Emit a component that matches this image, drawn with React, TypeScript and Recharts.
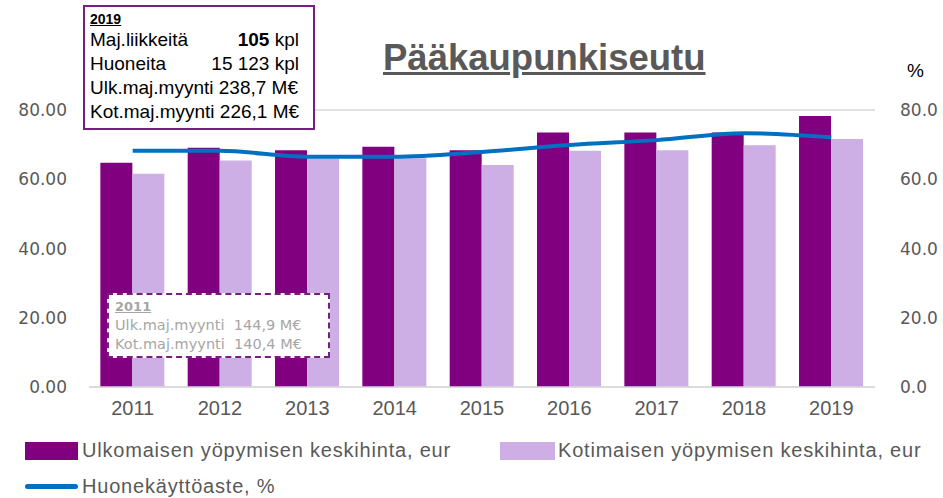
import { ComposedChart, Bar, Line, XAxis, YAxis, CartesianGrid, Legend } from 'recharts'

const YEARS = ['2011', '2012', '2013', '2014', '2015', '2016', '2017', '2018', '2019']
const FOREIGN_PRICE = [64.8, 69.1, 68.4, 69.4, 68.4, 73.5, 73.5, 73.5, 78.3]
const DOMESTIC_PRICE = [61.6, 65.4, 66.0, 66.1, 64.1, 68.2, 68.4, 69.8, 71.6]
const OCCUPANCY = [68.2, 68.2, 66.5, 66.5, 67.9, 69.9, 71.3, 73.3, 72.1]
const TICKS = [0, 20, 40, 60, 80]

const DARK = '#800080'
const LIGHT = '#CDAFE6'
const BLUE = '#0070C0'
const GREY = '#595959'

const data = YEARS.map((year, i) => ({
  year,
  foreign: FOREIGN_PRICE[i],
  domestic: DOMESTIC_PRICE[i],
  occupancy: OCCUPANCY[i],
}))

const tickFont = { fill: GREY, fontSize: 17, fontFamily: 'DejaVu Sans, sans-serif' }

function ChartLegend() {
  const text = { fontSize: 20, letterSpacing: 0.8, color: GREY, fontFamily: 'Liberation Sans, sans-serif', whiteSpace: 'nowrap' as const }
  return (
    <div style={{ position: 'relative', width: 943, height: 81 }}>
      <div style={{ position: 'absolute', left: 25, top: 22, display: 'flex', alignItems: 'center' }}>
        <span style={{ width: 53, height: 18, background: DARK, marginRight: 4 }} />
        <span style={text}>Ulkomaisen yöpymisen keskihinta, eur</span>
      </div>
      <div style={{ position: 'absolute', left: 500, top: 22, display: 'flex', alignItems: 'center' }}>
        <span style={{ width: 55, height: 18, background: LIGHT, marginRight: 3 }} />
        <span style={text}>Kotimaisen yöpymisen keskihinta, eur</span>
      </div>
      <div style={{ position: 'absolute', left: 25, top: 58, display: 'flex', alignItems: 'center' }}>
        <span style={{ width: 53, height: 5, borderRadius: 3, background: BLUE, marginRight: 4 }} />
        <span style={text}>Huonekäyttöaste, %</span>
      </div>
    </div>
  )
}

export default function App() {
  return (
    <div style={{ position: 'absolute', left: 0, top: 0, width: 943, height: 498, background: '#fff' }}>
      <ComposedChart
        width={943}
        height={498}
        data={data}
        margin={{ top: 110, right: 0, bottom: 0, left: 0 }}
        barGap={0}
        barCategoryGap="13%"
      >
        <CartesianGrid vertical={false} stroke="#D9D9D9" strokeWidth={1.5} />
        <XAxis
          dataKey="year"
          height={30}
          tickLine={false}
          axisLine={{ stroke: '#D9D9D9', strokeWidth: 1.5 }}
          tick={{ fill: GREY, fontSize: 20, fontFamily: 'Liberation Sans, sans-serif' }}
          tickMargin={8}
        />
        <YAxis
          yAxisId="left"
          width={89}
          domain={[0, 80]}
          ticks={TICKS}
          tickFormatter={(v: number) => v.toFixed(2)}
          axisLine={false}
          tickLine={false}
          tick={tickFont}
          tickMargin={16}
        />
        <YAxis
          yAxisId="right"
          orientation="right"
          width={68}
          domain={[0, 80]}
          ticks={TICKS}
          tickFormatter={(v: number) => v.toFixed(1)}
          axisLine={false}
          tickLine={false}
          tick={tickFont}
          tickMargin={19}
        />
        <Bar yAxisId="left" dataKey="foreign" fill={DARK} isAnimationActive={false} />
        <Bar yAxisId="left" dataKey="domestic" fill={LIGHT} isAnimationActive={false} />
        <Line
          yAxisId="right"
          dataKey="occupancy"
          type="monotone"
          stroke={BLUE}
          strokeWidth={4}
          dot={false}
          isAnimationActive={false}
        />
        <Legend verticalAlign="bottom" content={() => <ChartLegend />} wrapperStyle={{ left: 0 }} />
      </ComposedChart>

      <div
        style={{
          position: 'absolute',
          left: 383,
          top: 37,
          fontFamily: 'Liberation Sans, sans-serif',
          fontWeight: 'bold',
          fontSize: 36.5,
          color: GREY,
          textDecoration: 'underline',
          whiteSpace: 'nowrap',
        }}
      >
        Pääkaupunkiseutu
      </div>
      <div style={{ position: 'absolute', left: 907, top: 60, fontSize: 19, color: '#000', fontFamily: 'Liberation Sans, sans-serif' }}>
        %
      </div>

      <div
        style={{
          position: 'absolute',
          left: 83,
          top: 5,
          width: 232,
          height: 125,
          border: '2px solid #74207F',
          background: '#fff',
          fontFamily: 'Liberation Sans, sans-serif',
          fontSize: 19,
          color: '#000',
          padding: '3px 5px',
          boxSizing: 'border-box',
          lineHeight: '24px',
        }}
      >
        <div style={{ fontSize: 14, fontWeight: 'bold', textDecoration: 'underline', lineHeight: '18px' }}>2019</div>
        <div style={{ display: 'flex', justifyContent: 'space-between', paddingRight: 9 }}>
          <span>Maj.liikkeitä</span>
          <span>
            <b>105</b> kpl
          </span>
        </div>
        <div style={{ display: 'flex', justifyContent: 'space-between', paddingRight: 9 }}>
          <span>Huoneita</span>
          <span>15 123 kpl</span>
        </div>
        <div style={{ whiteSpace: 'nowrap' }}>Ulk.maj.myynti 238,7 M€</div>
        <div style={{ whiteSpace: 'nowrap' }}>Kot.maj.myynti 226,1 M€</div>
      </div>

      <div
        style={{
          position: 'absolute',
          left: 107,
          top: 293,
          width: 223,
          height: 65,
          border: '2px dashed #74207F',
          background: '#fff',
          fontFamily: 'DejaVu Sans, sans-serif',
          fontSize: 14.5,
          color: '#A6A6A6',
          padding: '3px 6px',
          boxSizing: 'border-box',
          lineHeight: '19px',
          whiteSpace: 'nowrap',
        }}
      >
        <div style={{ fontWeight: 'bold', textDecoration: 'underline', fontSize: 13, lineHeight: '18px' }}>2011</div>
        <div>Ulk.maj.myynti&nbsp; 144,9 M€</div>
        <div>Kot.maj.myynti&nbsp; 140,4 M€</div>
      </div>
    </div>
  )
}
